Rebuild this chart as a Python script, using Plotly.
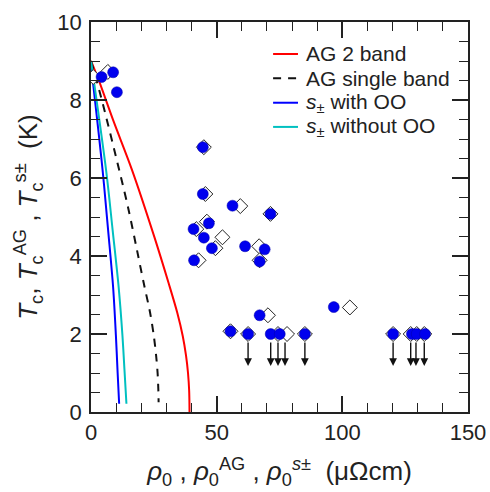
import plotly.graph_objects as go

# --- theoretical curves ---
ag2_x = [0, 3.0, 9.0, 16.3, 25.2, 30.9, 34.3, 36.5, 37.8, 38.6, 39.05, 39.2]
ag2_y = [9.0, 8.52, 7.45, 6.21, 4.49, 3.3, 2.55, 1.95, 1.45, 1.0, 0.55, 0.0]

ag1_x = [0, 3.7, 11.2, 14.9, 18.3, 21.0, 23.5, 25.0, 25.9, 26.5, 26.8, 26.9]
ag1_y = [9.0, 8.15, 6.21, 5.2, 4.15, 3.3, 2.55, 1.95, 1.45, 1.0, 0.55, 0.25]

soo_x = [0, 4.6, 6.8, 8.8, 9.9, 10.6, 11.2]
soo_y = [8.9, 6.21, 4.67, 3.2, 1.97, 1.0, 0.21]

snoo_x = [0, 6.1, 8.6, 11.0, 12.5, 13.3, 14.1]
snoo_y = [9.0, 6.15, 4.67, 3.20, 1.97, 1.1, 0.21]

series_names = ["AG 2 band", "AG single band",
                "<i>s</i><sub>±</sub> with OO", "<i>s</i><sub>±</sub> without OO"]

# --- data points ---
circ_x = [4.2, 8.8, 10.3, 44.5, 44.5, 56.3, 71.4, 46.9, 40.8, 44.9, 48.1, 61.3, 69.1,
          67.1, 41.0, 67.1, 96.6, 55.5, 62.5, 71.5, 75.1, 85.1, 120.2, 127.7, 129.6, 132.9]
circ_y = [8.59, 8.71, 8.20, 6.79, 5.59, 5.29, 5.08, 4.84, 4.69, 4.47, 4.20, 4.25, 4.17,
          3.86, 3.89, 2.48, 2.69, 2.07, 2.0, 2.0, 2.0, 2.0, 2.0, 2.0, 2.0, 2.0]

diam_x = [0.9, 6.7, 44.9, 45.5, 59.4, 71.4, 46.1, 41.9, 52.3, 49.5, 66.9, 67.1, 42.8,
          70.4, 103.0, 55.5, 62.5, 74.4, 78.0, 85.1, 120.2, 127.2, 129.6, 132.6]
diam_y = [8.59, 8.72, 6.79, 5.59, 5.28, 5.08, 4.88, 4.69, 4.48, 4.20, 4.25, 3.89, 3.89,
          2.48, 2.68, 2.07, 2.0, 2.0, 2.0, 2.0, 2.0, 2.0, 2.0, 2.0]

# upper-limit arrows
arrow_x = [62.5, 71.5, 74.4, 77.2, 85.1, 120.2, 127.2, 129.3, 132.6]
arrow_from = [1.82] * len(arrow_x)
arrow_to = [1.18] * len(arrow_x)

FONT = "Liberation Sans, Arial, sans-serif"
INK = "#222222"

line_styles = [dict(color="#ff0000", width=2),
               dict(color="#111111", width=2, dash="8px,7px"),
               dict(color="#0000ff", width=2),
               dict(color="#00c0c0", width=2)]
curves = [(ag2_x, ag2_y), (ag1_x, ag1_y), (soo_x, soo_y), (snoo_x, snoo_y)]

fig = go.Figure()
for (cx, cy), name, ls in zip(curves, series_names, line_styles):
    fig.add_trace(go.Scatter(x=cx, y=cy, mode="lines", name=name, showlegend=False,
                             line=dict(shape="spline", smoothing=0.9, **ls)))
fig.add_trace(go.Scatter(x=diam_x, y=diam_y, mode="markers", showlegend=False,
                         marker=dict(symbol="diamond", size=11.5, color="white",
                                     line=dict(color=INK, width=1))))
fig.add_trace(go.Scatter(x=circ_x, y=circ_y, mode="markers", showlegend=False,
                         marker=dict(symbol="circle", size=11, color="#0000ee",
                                     line=dict(color="#0000aa", width=0.5))))

for xa, y0, y1 in zip(arrow_x, arrow_from, arrow_to):
    fig.add_annotation(x=xa, y=y1, ax=xa, ay=y0, xref="x", yref="y", axref="x", ayref="y",
                       showarrow=True, arrowhead=2, arrowsize=1.1, arrowwidth=1.4,
                       arrowcolor="#111111", text="")

# legend drawn as line samples + labels (paper coordinates)
leg_rows = [0.918, 0.856, 0.793, 0.731]
for yr, name, ls in zip(leg_rows, series_names, line_styles):
    fig.add_shape(type="line", xref="paper", yref="paper", x0=0.483, x1=0.549, y0=yr, y1=yr,
                  line=ls)
    fig.add_annotation(x=0.566, y=yr, xref="paper", yref="paper", text=name, showarrow=False,
                       xanchor="left", yanchor="middle",
                       font=dict(family=FONT, size=21, color=INK))

axis_common = dict(showline=True, linecolor=INK, linewidth=1.8, mirror="ticks",
                   ticks="inside", ticklen=16, tickwidth=1.6, tickcolor=INK,
                   showgrid=False, zeroline=False, automargin=False,
                   tickfont=dict(family=FONT, size=22, color=INK))

fig.update_xaxes(range=[0, 150], dtick=50, tick0=0,
                 minor=dict(ticks="inside", ticklen=9, dtick=10, tickwidth=1.4, tickcolor=INK),
                 title=dict(text="<i>ρ</i><sub>0</sub> , <i>ρ</i><sub>0</sub><sup>AG</sup> , <i>ρ</i><sub>0</sub><sup><i>s</i>±</sup>  (μΩcm)",
                            font=dict(family=FONT, size=26, color=INK), standoff=18),
                 **axis_common)
fig.update_yaxes(range=[0, 10], dtick=2, tick0=0, ticklabelstandoff=3,
                 minor=dict(ticks="inside", ticklen=9, dtick=0.5, tickwidth=1.4, tickcolor=INK),
                 title=dict(text="<i>T</i><sub>c</sub>, <i>T</i><sub>c</sub><sup>AG</sup> , <i>T</i><sub>c</sub><sup>s±</sup>  (K)",
                            font=dict(family=FONT, size=26, color=INK), standoff=12),
                 **axis_common)

fig.update_layout(width=490, height=492, margin=dict(l=91, r=22, t=22, b=80),
                  plot_bgcolor="white", paper_bgcolor="white", showlegend=False)

fig.write_html("out.html", config={"displayModeBar": False},
               post_script="document.body.style.margin='0';")
